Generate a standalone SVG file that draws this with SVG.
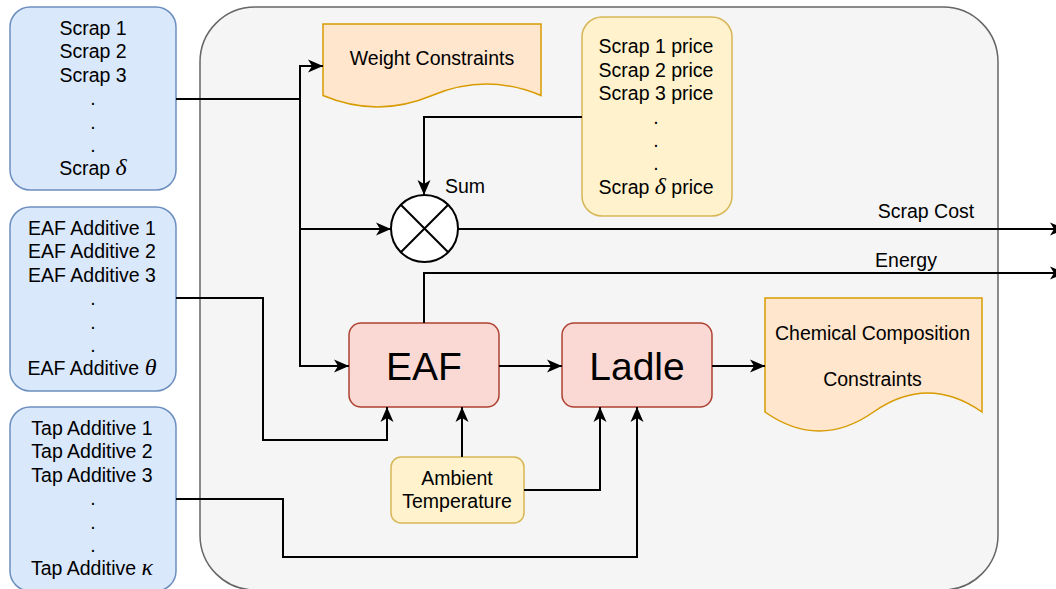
<svg xmlns="http://www.w3.org/2000/svg" width="1056" height="589" viewBox="0 0 1056 589">
<defs>
<marker id="arr" markerUnits="userSpaceOnUse" markerWidth="16" markerHeight="16" viewBox="-16 -8 16 16" refX="0" refY="0" orient="auto">
<path d="M0,0 L-15,-6.5 L-11,0 L-15,6.5 Z" fill="#000"/>
</marker>
</defs>
<style>
text{font-family:"Liberation Sans",Arial,sans-serif;font-size:19.5px;fill:#000;text-anchor:middle}
.g{font-family:"Liberation Serif","Times New Roman",serif;font-style:italic;font-size:24px}
.big{font-size:39px}
.in{fill:#dae8fc;stroke:#6c8ebf;stroke-width:1.5}
.yel{fill:#fff2cc;stroke:#d6b656;stroke-width:1.5}
.doc{fill:#ffe6cc;stroke:#d79b00;stroke-width:1.5}
.proc{fill:#fad9d5;stroke:#ae4132;stroke-width:1.5}
.c{fill:none;stroke:#000;stroke-width:2}
.ca{fill:none;stroke:#000;stroke-width:2;marker-end:url(#arr)}
</style>
<rect id="container" x="200" y="7" width="798" height="583" rx="55" fill="#f5f5f5" stroke="#666666" stroke-width="1.5"/>

<g id="scraps">
<rect class="in" x="10" y="7" width="166" height="183" rx="20"/>
<text x="93" y="35">Scrap 1</text>
<text x="93" y="58.4">Scrap 2</text>
<text x="93" y="81.8">Scrap 3</text>
<text x="93" y="105.2">.</text>
<text x="93" y="128.6">.</text>
<text x="93" y="152">.</text>
<text x="93" y="175.4">Scrap <tspan class="g">δ</tspan></text>
</g>

<g id="eaf-additives">
<rect class="in" x="10" y="207" width="166" height="184" rx="20"/>
<text x="92" y="235">EAF Additive 1</text>
<text x="92" y="258.4">EAF Additive 2</text>
<text x="92" y="281.8">EAF Additive 3</text>
<text x="93" y="305.2">.</text>
<text x="93" y="328.6">.</text>
<text x="93" y="352">.</text>
<text x="92" y="375.4">EAF Additive <tspan class="g">θ</tspan></text>
</g>

<g id="tap-additives">
<rect class="in" x="10" y="407" width="166" height="184" rx="20"/>
<text x="92" y="435">Tap Additive 1</text>
<text x="92" y="458.4">Tap Additive 2</text>
<text x="92" y="481.8">Tap Additive 3</text>
<text x="93" y="505.2">.</text>
<text x="93" y="528.6">.</text>
<text x="93" y="552">.</text>
<text x="92" y="575.4">Tap Additive <tspan class="g">κ</tspan></text>
</g>

<g id="weight-constraints">
<path class="doc" d="M323,24 H541 V95.5 Q486.5,72.6 432,95.5 Q377.5,118.4 323,95.5 Z"/>
<text x="432" y="65">Weight Constraints</text>
</g>

<g id="scrap-prices">
<rect class="yel" x="582" y="17" width="150" height="199" rx="20"/>
<text x="656" y="53.3">Scrap 1 price</text>
<text x="656" y="76.7">Scrap 2 price</text>
<text x="656" y="100.1">Scrap 3 price</text>
<text x="656" y="123.5">.</text>
<text x="656" y="146.9">.</text>
<text x="656" y="170.3">.</text>
<text x="656" y="193.7">Scrap <tspan class="g">δ</tspan> price</text>
</g>

<g id="sum">
<circle cx="424.5" cy="228.5" r="33.5" fill="#fff" stroke="#000" stroke-width="2"/>
<path d="M400.8,204.8 L448.2,252.2 M448.2,204.8 L400.8,252.2" stroke="#000" stroke-width="2" fill="none"/>
<text x="465" y="193">Sum</text>
</g>

<g id="eaf">
<rect class="proc" x="349" y="323" width="150" height="84" rx="12"/>
<text class="big" x="424" y="380">EAF</text>
</g>

<g id="ladle">
<rect class="proc" x="562" y="323" width="150" height="84" rx="12"/>
<text class="big" x="637" y="380">Ladle</text>
</g>

<g id="ambient">
<rect class="yel" x="391" y="457" width="133" height="66" rx="10"/>
<text x="457" y="485">Ambient</text>
<text x="457" y="508">Temperature</text>
</g>

<g id="chemical-constraints">
<path class="doc" d="M765,298 H982 V412 Q927.75,374 873.5,412 Q819.25,450 765,412 Z"/>
<text x="872.5" y="340">Chemical Composition</text>
<text x="872.5" y="386">Constraints</text>
</g>

<g id="connectors">
<path class="c" d="M176,99 H300"/>
<path class="ca" d="M300,99 V66 H323"/>
<path class="ca" d="M300,99 V229 H391"/>
<path class="ca" d="M300,229 V366 H349"/>
<path class="ca" d="M582,117 H424 V195"/>
<path class="ca" d="M458,229 H1065"/>
<text x="926" y="218">Scrap Cost</text>
<path class="ca" d="M424,323 V273 H1065"/>
<text x="906" y="267">Energy</text>
<path class="ca" d="M176,298 H263 V440 H387 V407"/>
<path class="ca" d="M462,457 V407"/>
<path class="ca" d="M524,490 H600 V407"/>
<path class="ca" d="M176,499 H283 V557 H637 V407"/>
<path class="ca" d="M499,366 H562"/>
<path class="ca" d="M712,366 H765"/>
</g>
</svg>
